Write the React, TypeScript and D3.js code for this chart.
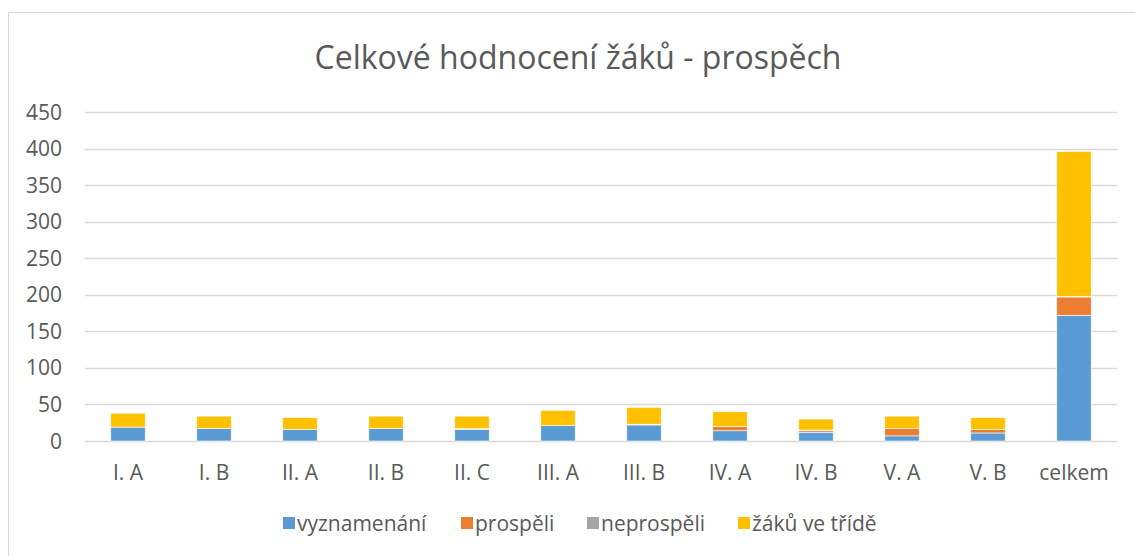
import React, { useRef, useEffect } from 'react';
import * as d3 from 'd3';

const categories = ['I. A', 'I. B', 'II. A', 'II. B', 'II. C', 'III. A', 'III. B', 'IV. A', 'IV. B', 'V. A', 'V. B', 'celkem'];
const seriesNames = ['vyznamenání', 'prospěli', 'neprospěli', 'žáků ve třídě'];
const vyznamenani = [19, 17, 16, 17, 16, 21, 22, 14, 12, 7, 11, 172];
const prospeli = [0, 0, 0, 0, 1, 0, 1, 6, 2, 10, 5, 25];
const neprospeli = [0, 0, 0, 0, 0, 0, 0, 0, 1, 0, 0, 1];
const zakuVeTride = [19, 17, 16, 17, 17, 21, 23, 20, 15, 17, 16, 198];
const yTicks = [0, 50, 100, 150, 200, 250, 300, 350, 400, 450];
const colors = ['#5b9bd5', '#ed7d31', '#a5a5a5', '#ffc000'];

const W = 1135;
const H = 556;
const FONT = '"Open Sans", "Liberation Sans", sans-serif';

const App = () => {
    const ref = useRef<SVGSVGElement>(null);

    useEffect(() => {
        const svg = d3.select(ref.current);
        svg.selectAll('*').remove();

        const rows = categories.map((c, i) => ({
            cat: c,
            s0: vyznamenani[i],
            s1: prospeli[i],
            s2: neprospeli[i],
            s3: zakuVeTride[i],
        }));
        const stack = d3.stack<any>().keys(['s0', 's1', 's2', 's3'])(rows);

        const x = d3.scaleBand().domain(categories).range([85, 1117]).paddingInner(0.6).paddingOuter(0.3);
        const y = d3.scaleLinear().domain([0, 450]).range([441, 112]);

        // chart frame
        svg.append('path')
            .attr('d', 'M8.5,600 L8.5,12.5 L1140,12.5')
            .attr('fill', 'none')
            .attr('stroke', '#d9d9d9')
            .attr('stroke-width', 1);

        svg.append('text')
            .attr('x', 578).attr('y', 69)
            .attr('text-anchor', 'middle')
            .attr('font-family', FONT)
            .attr('font-size', 32)
            .attr('fill', '#595959')
            .text('Celkové hodnocení žáků - prospěch');

        // grid
        svg.append('g').selectAll('line')
            .data(yTicks)
            .join('line')
            .attr('x1', 85).attr('x2', 1117)
            .attr('y1', d => Math.round(y(d)) + 0.5)
            .attr('y2', d => Math.round(y(d)) + 0.5)
            .attr('stroke', '#d9d9d9')
            .attr('stroke-width', 1.3);

        svg.append('g').selectAll('text')
            .data(yTicks)
            .join('text')
            .attr('x', 62)
            .attr('y', d => y(d) + 7.5)
            .attr('text-anchor', 'end')
            .attr('font-family', FONT)
            .attr('font-size', 21)
            .attr('fill', '#595959')
            .text(d => d);

        // bars
        svg.append('g').selectAll('g')
            .data(stack)
            .join('g')
            .attr('fill', (d, i) => colors[i])
            .selectAll('rect')
            .data(d => d)
            .join('rect')
            .attr('x', d => x(d.data.cat)!)
            .attr('width', x.bandwidth())
            .attr('y', d => y(d[1]))
            .attr('height', d => Math.max(0, y(d[0]) - y(d[1])))
            .attr('stroke', 'white')
            .attr('stroke-width', 0.6);

        // x labels
        svg.append('g').selectAll('text')
            .data(categories)
            .join('text')
            .attr('x', d => x(d)! + x.bandwidth() / 2)
            .attr('y', 480)
            .attr('text-anchor', 'middle')
            .attr('font-family', FONT)
            .attr('font-size', 21)
            .attr('fill', '#595959')
            .text(d => d);

        // legend
        const legendX = [283, 461, 587, 738];
        const lg = svg.append('g').selectAll('g')
            .data(seriesNames)
            .join('g')
            .attr('transform', (d, i) => `translate(${legendX[i]},517)`);
        lg.append('rect')
            .attr('width', 12).attr('height', 12)
            .attr('fill', (d, i) => colors[i]);
        lg.append('text')
            .attr('x', 14).attr('y', 14)
            .attr('font-family', FONT)
            .attr('font-size', 21)
            .attr('fill', '#595959')
            .text(d => d);
    }, []);

    return (
        <svg ref={ref} width={W} height={H} style={{ position: 'absolute', left: 0, top: 0, background: 'white' }} />
    );
};

export default App;
